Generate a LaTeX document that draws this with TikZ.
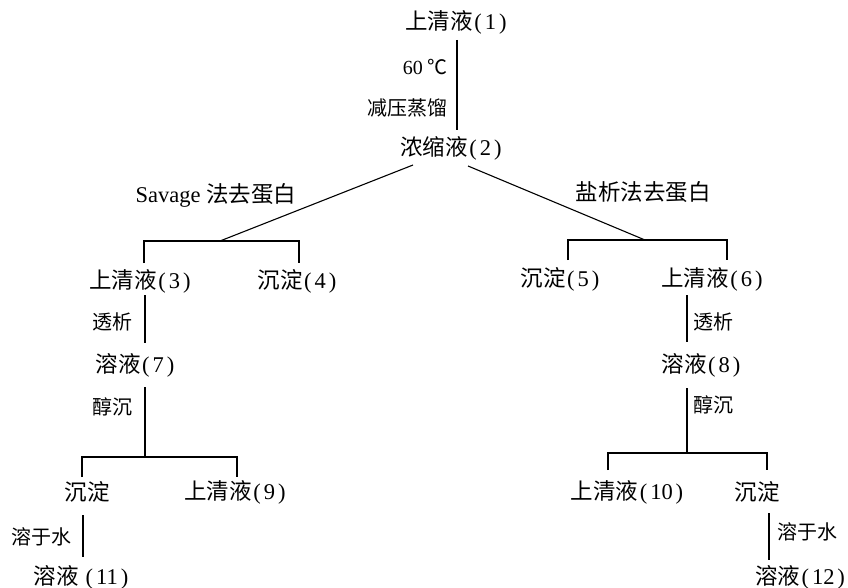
\documentclass[tikz,border=0pt]{standalone}
\usepackage{fontspec}
\setmainfont{Liberation Serif}
\newfontfamily\cj{Noto Sans CJK SC}
\newcommand{\pn}[1]{\kern1.5pt(\kern3pt#1\kern3pt)}
\begin{document}
\begin{tikzpicture}[x=1pt,y=-1pt,
  nd/.style={inner sep=0pt,font=\fontsize{22.5}{26}\selectfont},
  lb/.style={inner sep=0pt,font=\fontsize{20}{24}\selectfont},
  br/.style={inner sep=0pt,font=\fontsize{22.5}{26}\selectfont},
  ln/.style={line width=1.1pt,black}]
\useasboundingbox[fill=white] (0,0) rectangle (848,588);
% nodes
\node[nd] (n1) at (456,22) {{\cj 上清液}\pn{1}};
\node[nd] (n2) at (451,148) {{\cj 浓缩液}\pn{2}};
\node[nd] (n3) at (140,281) {{\cj 上清液}\pn{3}};
\node[nd] (n4) at (297,281) {{\cj 沉淀}\pn{4}};
\node[nd] (n5) at (560,279) {{\cj 沉淀}\pn{5}};
\node[nd] (n6) at (712,279) {{\cj 上清液}\pn{6}};
\node[nd] (n7) at (135,365) {{\cj 溶液}\pn{7}};
\node[nd] (n8) at (701,365) {{\cj 溶液}\pn{8}};
\node[nd] (pl) at (87,492) {\cj 沉淀};
\node[nd] (n9) at (235,492) {{\cj 上清液}\pn{9}};
\node[nd] (n10) at (627,492) {{\cj 上清液}\pn{10}};
\node[nd] (pr) at (757,492) {\cj 沉淀};
\node[nd] (n11) at (81,577) {{\cj 溶液} \pn{11}};
\node[nd] (n12) at (800,577) {{\cj 溶液}\pn{12}};
% labels
\node[lb,anchor=east] (l1) at (448,67) {60 {\cj ℃}};
\node[lb,anchor=east] (l2) at (448,108) {\cj 减压蒸馏};
\node[br] (l3) at (216,195) {Savage {\cj 法去蛋白}};
\node[br] (l4) at (643,192) {\cj 盐析法去蛋白};
\node[lb,anchor=east] (l5) at (133,322) {\cj 透析};
\node[lb,anchor=east] (l6) at (133,407) {\cj 醇沉};
\node[lb,anchor=east] (l7) at (72,537) {\cj 溶于水};
\node[lb,anchor=west] (l8) at (693,322) {\cj 透析};
\node[lb,anchor=west] (l9) at (693,405) {\cj 醇沉};
\node[lb,anchor=west] (l10) at (777,532) {\cj 溶于水};
% coordinates
\coordinate (a1) at (457,40); \coordinate (a2) at (457,130);
\coordinate (sl) at (413,165); \coordinate (bl) at (220,241);
\coordinate (sr) at (468,166); \coordinate (brr) at (645,240);
\coordinate (lL) at (144,263); \coordinate (lR) at (299,241); \coordinate (lR2) at (299,263);
\coordinate (rL) at (568,260); \coordinate (rR) at (727,240); \coordinate (rR2) at (727,260);
\coordinate (b3a) at (145,295); \coordinate (b3b) at (145,343);
\coordinate (b7a) at (145,387); \coordinate (b7b) at (145,457);
\coordinate (k1) at (82,477); \coordinate (k2) at (237,457); \coordinate (k3) at (237,477);
\coordinate (p1) at (83,515); \coordinate (p2) at (83,557);
\coordinate (b6a) at (687,295); \coordinate (b6b) at (687,342);
\coordinate (b8a) at (687,388); \coordinate (b8b) at (687,453);
\coordinate (m1) at (608,470); \coordinate (m2) at (767,453); \coordinate (m3) at (767,470);
\coordinate (q1) at (769,513); \coordinate (q2) at (769,560);
% connectors
\draw[ln] (a1) -- (a2);
\draw[ln] (sl) -- (bl);
\draw[ln] (sr) -- (brr);
\draw[ln] (lL) |- (lR) -- (lR2);
\draw[ln] (rL) |- (rR) -- (rR2);
\draw[ln] (b3a) -- (b3b);
\draw[ln] (b7a) -- (b7b);
\draw[ln] (k1) |- (k2) -- (k3);
\draw[ln] (p1) -- (p2);
\draw[ln] (b6a) -- (b6b);
\draw[ln] (b8a) -- (b8b);
\draw[ln] (m1) |- (m2) -- (m3);
\draw[ln] (q1) -- (q2);
\end{tikzpicture}
\end{document}
